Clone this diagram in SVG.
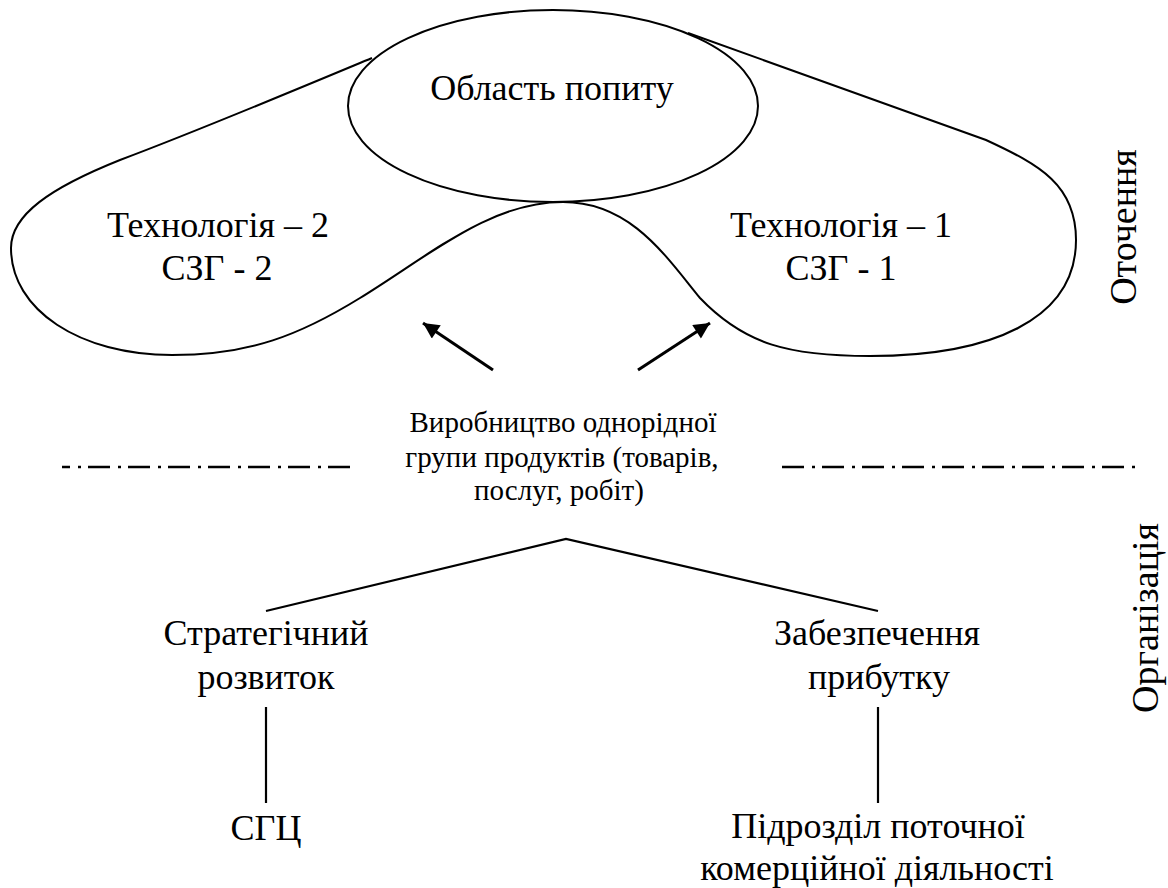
<svg xmlns="http://www.w3.org/2000/svg" width="1168" height="888" viewBox="0 0 1168 888">
  <style>
    .bg { fill: #ffffff; }
    .shape { fill: none; stroke: #000; stroke-width: 2; }
    .link { fill: none; stroke: #000; stroke-width: 2.2; }
    .arrow { fill: none; stroke: #000; stroke-width: 3; }
    .dashdot { fill: none; stroke: #000; stroke-width: 2.6; stroke-dasharray: 22 8 3 7; }
    text { font-family: 'Liberation Serif', 'DejaVu Serif', serif; fill: #000; text-anchor: middle; }
    .lbl { font-size: 36px; }
    .sm { font-size: 29px; }
    .side { font-size: 38px; }
  </style>
  <defs>
    <marker id="head" viewBox="0 0 10 10" refX="10" refY="5" markerWidth="20" markerHeight="16" markerUnits="userSpaceOnUse" orient="auto">
      <path d="M0,0 L10,5 L0,10 z" fill="#000"/>
    </marker>
  </defs>
  <rect class="bg" x="0" y="0" width="1168" height="888"/>

  <!-- environment outline: two lobes hanging from the demand ellipse -->
  <g id="technologies">
    <path class="shape" d="M372,58 C300,88 200,130 120,160 C50,188 11,215 11,248 C11,310 80,355 172,355 C250,355 300,335 360,298 C430,255 490,202 563,202 C630,202 665,255 700,298 C745,345 790,356 870,356 C990,356 1076,320 1076,240 C1076,185 1040,165 986,140 L688,33"/>
    <text class="lbl" x="218" y="237">Технологія – 2</text>
    <text class="lbl" x="217" y="280">СЗГ - 2</text>
    <text class="lbl" x="841" y="237">Технологія – 1</text>
    <text class="lbl" x="841" y="280">СЗГ - 1</text>
  </g>

  <g id="demand">
    <ellipse class="shape" cx="553" cy="106" rx="205" ry="96"/>
    <text class="lbl" x="552" y="100">Область попиту</text>
  </g>

  <g id="production">
    <text class="sm" x="563" y="432">Виробництво однорідної</text>
    <text class="sm" x="562" y="467">групи продуктів (товарів,</text>
    <text class="sm" x="559" y="500">послуг, робіт)</text>
  </g>

  <g id="strategic">
    <text class="lbl" x="266" y="645">Стратегічний</text>
    <text class="lbl" x="266" y="689">розвиток</text>
  </g>

  <g id="profit">
    <text class="lbl" x="877" y="645">Забезпечення</text>
    <text class="lbl" x="879" y="689">прибутку</text>
  </g>

  <g id="sbu">
    <text class="lbl" x="266" y="840">СГЦ</text>
  </g>

  <g id="commercial-unit">
    <text class="lbl" x="878" y="838">Підрозділ поточної</text>
    <text class="lbl" x="877" y="880">комерційної діяльності</text>
  </g>

  <!-- boundary between environment and organisation -->
  <g id="boundary">
    <line class="dashdot" x1="62" y1="467" x2="350" y2="467" stroke-dashoffset="14"/>
    <line class="dashdot" x1="782" y1="467" x2="1135" y2="467"/>
    <text class="side" transform="translate(1136,227) rotate(-90)">Оточення</text>
    <text class="side" transform="translate(1158,618) rotate(-90)">Організація</text>
  </g>

  <g id="connectors">
    <line class="arrow" x1="493" y1="370" x2="423" y2="323" marker-end="url(#head)"/>
    <line class="arrow" x1="638" y1="370" x2="710" y2="323" marker-end="url(#head)"/>
    <polyline class="link" points="266,611 566,539 878,611"/>
    <line class="link" x1="266" y1="707" x2="266" y2="803"/>
    <line class="link" x1="878" y1="707" x2="878" y2="803"/>
  </g>
</svg>
